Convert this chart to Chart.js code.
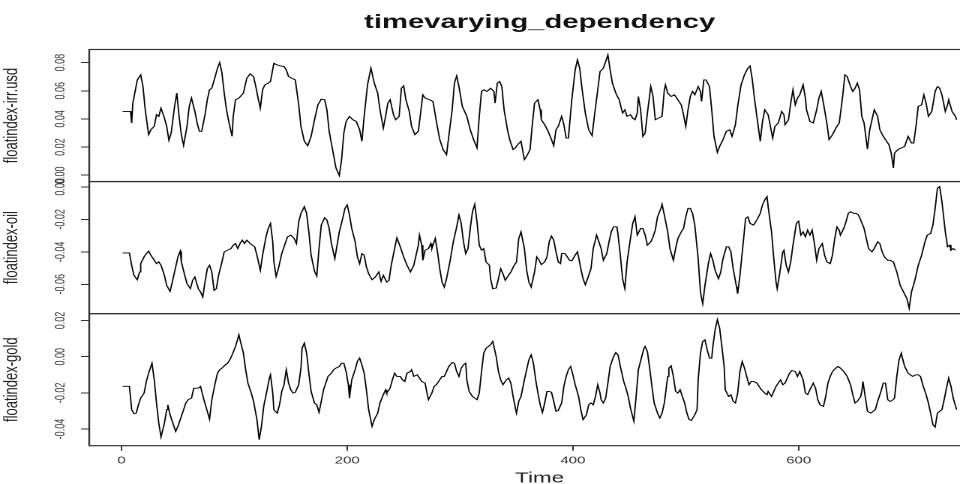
<!DOCTYPE html>
<html>
<head>
<meta charset="utf-8">
<title>timevarying_dependency</title>
<script src="https://cdn.jsdelivr.net/npm/chart.js@4.4.1/dist/chart.umd.min.js"></script>
<style>
    html, body { margin: 0; padding: 0; background: #fff; overflow: hidden; }
    /* the original picture is stretched sideways, so the canvas is too */
    #chart { width: 990px; height: 490px; }
</style>
</head>
<body>
<canvas id="chart" width="660" height="490" style="width:990px;height:490px"></canvas>
<script>
// tick labels
const xTicks = [0, 200, 400, 600];
const usdTicks = [0, 0.02, 0.04, 0.06, 0.08];
const oilTicks = [-0.06, -0.04, -0.02, 0];
const goldTicks = [-0.04, -0.02, 0, 0.02];

// axis ranges
const timeRange = [-28.6, 769.6];
const usdRange = [-0.0045, 0.0893];
const oilRange = [-0.0781, 0.0033];
const goldRange = [-0.0492, 0.0238];

// [time, value] (turning points of each curve)
const usdPoints = [[1,0.0453],[8,0.0453],[9,0.0371],[10,0.0512],[14,0.0677],[17,0.0713],[19,0.0630],[21,0.0465],[24,0.0288],[26,0.0323],[29,0.0347],[31,0.0430],[33,0.0418],[35,0.0477],[38,0.0406],[40,0.0347],[42,0.0248],[44,0.0300],[47,0.0489],[49,0.0583],[51,0.0418],[53,0.0288],[55,0.0212],[58,0.0347],[60,0.0489],[62,0.0548],[65,0.0453],[67,0.0371],[69,0.0312],[71,0.0312],[74,0.0430],[76,0.0536],[78,0.0607],[80,0.0618],[83,0.0701],[85,0.0760],[87,0.0800],[89,0.0725],[91,0.0583],[93,0.0465],[95,0.0382],[98,0.0276],[99,0.0418],[101,0.0536],[104,0.0548],[108,0.0583],[111,0.0689],[114,0.0720],[117,0.0701],[119,0.0630],[121,0.0548],[123,0.0477],[125,0.0607],[127,0.0642],[130,0.0654],[132,0.0666],[135,0.0795],[138,0.0784],[141,0.0776],[144,0.0772],[146,0.0748],[148,0.0701],[151,0.0689],[154,0.0677],[157,0.0500],[159,0.0347],[162,0.0241],[165,0.0210],[168,0.0276],[171,0.0394],[174,0.0500],[177,0.0540],[180,0.0536],[182,0.0465],[184,0.0312],[187,0.0182],[190,0.0052],[193,-0.0002],[195,0.0111],[197,0.0300],[199,0.0382],[202,0.0418],[205,0.0394],[208,0.0382],[211,0.0323],[213,0.0241],[215,0.0418],[218,0.0642],[221,0.0760],[224,0.0654],[227,0.0583],[229,0.0465],[232,0.0335],[234,0.0418],[236,0.0512],[238,0.0536],[241,0.0430],[243,0.0394],[246,0.0418],[248,0.0618],[250,0.0635],[252,0.0536],[255,0.0453],[257,0.0347],[260,0.0288],[263,0.0312],[265,0.0441],[267,0.0571],[269,0.0548],[273,0.0536],[276,0.0524],[279,0.0382],[282,0.0253],[285,0.0182],[288,0.0146],[290,0.0276],[293,0.0465],[295,0.0654],[297,0.0706],[299,0.0630],[302,0.0489],[306,0.0418],[309,0.0323],[312,0.0253],[315,0.0194],[317,0.0418],[319,0.0595],[321,0.0607],[324,0.0595],[327,0.0618],[330,0.0595],[331,0.0512],[333,0.0654],[335,0.0666],[337,0.0630],[339,0.0465],[342,0.0323],[344,0.0253],[347,0.0182],[349,0.0194],[351,0.0217],[354,0.0241],[357,0.0111],[359,0.0135],[362,0.0182],[364,0.0359],[366,0.0512],[369,0.0536],[371,0.0465],[372,0.0394],[375,0.0359],[378,0.0312],[381,0.0253],[383,0.0210],[385,0.0323],[387,0.0347],[390,0.0418],[392,0.0359],[394,0.0264],[396,0.0264],[399,0.0536],[402,0.0748],[404,0.0819],[406,0.0760],[408,0.0618],[411,0.0441],[414,0.0323],[417,0.0281],[419,0.0418],[422,0.0607],[424,0.0736],[427,0.0760],[430,0.0831],[431,0.0854],[433,0.0748],[435,0.0654],[438,0.0583],[441,0.0536],[444,0.0441],[446,0.0465],[448,0.0418],[451,0.0430],[453,0.0406],[455,0.0394],[457,0.0441],[458,0.0559],[460,0.0465],[462,0.0276],[464,0.0300],[466,0.0441],[469,0.0630],[471,0.0559],[473,0.0394],[476,0.0406],[479,0.0418],[481,0.0607],[482,0.0642],[484,0.0583],[487,0.0559],[490,0.0571],[493,0.0536],[496,0.0500],[498,0.0430],[500,0.0347],[502,0.0465],[504,0.0559],[506,0.0595],[508,0.0571],[511,0.0630],[513,0.0595],[514,0.0524],[516,0.0677],[518,0.0677],[521,0.0630],[523,0.0465],[525,0.0276],[528,0.0163],[530,0.0205],[533,0.0253],[536,0.0312],[539,0.0323],[541,0.0276],[544,0.0359],[546,0.0489],[549,0.0642],[552,0.0713],[555,0.0760],[557,0.0776],[559,0.0677],[561,0.0536],[563,0.0418],[566,0.0241],[568,0.0382],[570,0.0465],[573,0.0430],[575,0.0347],[577,0.0264],[579,0.0347],[582,0.0371],[585,0.0453],[587,0.0430],[588,0.0359],[591,0.0394],[593,0.0512],[595,0.0607],[597,0.0500],[599,0.0548],[601,0.0571],[604,0.0642],[606,0.0548],[607,0.0465],[610,0.0382],[613,0.0371],[616,0.0465],[618,0.0548],[620,0.0595],[622,0.0512],[625,0.0371],[627,0.0253],[630,0.0288],[633,0.0335],[636,0.0371],[639,0.0559],[641,0.0713],[643,0.0701],[646,0.0630],[648,0.0595],[650,0.0618],[652,0.0654],[654,0.0607],[656,0.0418],[658,0.0371],[661,0.0186],[663,0.0323],[665,0.0394],[667,0.0465],[670,0.0418],[672,0.0323],[675,0.0276],[678,0.0241],[680,0.0217],[682,0.0158],[684,0.0052],[685,0.0158],[688,0.0182],[691,0.0194],[694,0.0205],[697,0.0276],[700,0.0229],[702,0.0229],[704,0.0347],[706,0.0489],[709,0.0500],[711,0.0571],[713,0.0512],[715,0.0418],[718,0.0453],[721,0.0595],[723,0.0630],[725,0.0618],[727,0.0571],[730,0.0453],[732,0.0500],[733,0.0536],[736,0.0453],[739,0.0418],[740,0.0394]];

const oilPoints = [[1,-0.0407],[7,-0.0407],[9,-0.0483],[11,-0.0545],[14,-0.0572],[16,-0.0524],[17,-0.0473],[20,-0.0431],[22,-0.0411],[24,-0.0396],[26,-0.0421],[29,-0.0452],[31,-0.0473],[33,-0.0462],[35,-0.0483],[38,-0.0545],[40,-0.0607],[43,-0.0644],[45,-0.0586],[47,-0.0524],[50,-0.0431],[52,-0.0396],[53,-0.0462],[56,-0.0545],[58,-0.0596],[61,-0.0627],[63,-0.0576],[65,-0.0555],[68,-0.0627],[70,-0.0648],[72,-0.0679],[74,-0.0586],[76,-0.0504],[78,-0.0483],[80,-0.0524],[82,-0.0638],[84,-0.0627],[86,-0.0545],[89,-0.0462],[91,-0.0400],[94,-0.0390],[97,-0.0380],[99,-0.0359],[101,-0.0349],[103,-0.0380],[105,-0.0349],[107,-0.0328],[109,-0.0349],[111,-0.0328],[114,-0.0349],[116,-0.0359],[118,-0.0369],[120,-0.0421],[123,-0.0514],[125,-0.0421],[128,-0.0308],[130,-0.0256],[132,-0.0225],[134,-0.0338],[135,-0.0462],[137,-0.0551],[139,-0.0504],[142,-0.0411],[145,-0.0349],[147,-0.0308],[150,-0.0297],[153,-0.0318],[155,-0.0349],[157,-0.0215],[159,-0.0163],[162,-0.0122],[164,-0.0163],[166,-0.0277],[168,-0.0421],[171,-0.0520],[173,-0.0549],[175,-0.0380],[177,-0.0235],[180,-0.0190],[182,-0.0204],[184,-0.0256],[186,-0.0349],[189,-0.0442],[191,-0.0359],[193,-0.0277],[196,-0.0194],[198,-0.0132],[200,-0.0111],[202,-0.0173],[204,-0.0256],[207,-0.0338],[209,-0.0431],[211,-0.0473],[213,-0.0411],[215,-0.0421],[217,-0.0493],[219,-0.0535],[222,-0.0572],[225,-0.0555],[228,-0.0524],[230,-0.0582],[232,-0.0545],[235,-0.0586],[237,-0.0576],[239,-0.0483],[242,-0.0380],[244,-0.0314],[247,-0.0369],[250,-0.0431],[253,-0.0483],[256,-0.0524],[259,-0.0483],[263,-0.0359],[264,-0.0297],[266,-0.0359],[267,-0.0452],[269,-0.0390],[272,-0.0380],[274,-0.0349],[275,-0.0380],[278,-0.0318],[280,-0.0400],[282,-0.0504],[284,-0.0586],[286,-0.0617],[288,-0.0566],[291,-0.0462],[294,-0.0338],[297,-0.0246],[299,-0.0173],[301,-0.0225],[303,-0.0338],[305,-0.0411],[307,-0.0380],[309,-0.0256],[311,-0.0153],[313,-0.0107],[315,-0.0215],[317,-0.0359],[319,-0.0390],[321,-0.0380],[323,-0.0462],[326,-0.0483],[327,-0.0566],[329,-0.0627],[332,-0.0623],[334,-0.0566],[336,-0.0504],[338,-0.0535],[340,-0.0576],[342,-0.0555],[345,-0.0524],[348,-0.0483],[350,-0.0462],[352,-0.0318],[354,-0.0277],[357,-0.0380],[359,-0.0514],[361,-0.0586],[363,-0.0617],[366,-0.0524],[368,-0.0431],[370,-0.0452],[372,-0.0479],[375,-0.0462],[377,-0.0431],[379,-0.0338],[381,-0.0303],[383,-0.0328],[385,-0.0400],[387,-0.0462],[389,-0.0473],[390,-0.0411],[393,-0.0411],[395,-0.0431],[397,-0.0452],[399,-0.0456],[402,-0.0421],[404,-0.0400],[405,-0.0431],[407,-0.0504],[409,-0.0566],[411,-0.0603],[414,-0.0545],[416,-0.0504],[418,-0.0380],[421,-0.0297],[423,-0.0338],[425,-0.0380],[427,-0.0452],[430,-0.0411],[432,-0.0338],[434,-0.0277],[436,-0.0246],[439,-0.0246],[440,-0.0297],[442,-0.0421],[444,-0.0566],[446,-0.0627],[448,-0.0462],[451,-0.0318],[453,-0.0225],[455,-0.0184],[457,-0.0297],[460,-0.0256],[462,-0.0256],[464,-0.0297],[466,-0.0359],[469,-0.0338],[471,-0.0308],[473,-0.0266],[475,-0.0184],[478,-0.0132],[479,-0.0107],[481,-0.0173],[484,-0.0277],[486,-0.0380],[489,-0.0452],[491,-0.0380],[493,-0.0318],[496,-0.0277],[498,-0.0256],[500,-0.0184],[502,-0.0132],[504,-0.0132],[506,-0.0163],[508,-0.0235],[511,-0.0442],[513,-0.0648],[515,-0.0720],[517,-0.0607],[520,-0.0473],[522,-0.0411],[524,-0.0452],[526,-0.0514],[529,-0.0566],[531,-0.0524],[533,-0.0442],[536,-0.0369],[538,-0.0369],[540,-0.0400],[542,-0.0504],[545,-0.0617],[546,-0.0658],[548,-0.0545],[551,-0.0338],[553,-0.0194],[555,-0.0184],[557,-0.0225],[560,-0.0235],[561,-0.0225],[563,-0.0204],[566,-0.0163],[568,-0.0111],[570,-0.0080],[572,-0.0060],[573,-0.0122],[576,-0.0277],[578,-0.0442],[580,-0.0586],[581,-0.0627],[583,-0.0545],[586,-0.0400],[587,-0.0390],[589,-0.0483],[591,-0.0524],[593,-0.0462],[595,-0.0359],[598,-0.0225],[600,-0.0211],[602,-0.0297],[604,-0.0277],[606,-0.0308],[608,-0.0266],[610,-0.0297],[612,-0.0266],[614,-0.0349],[616,-0.0452],[618,-0.0380],[621,-0.0349],[623,-0.0421],[625,-0.0462],[628,-0.0473],[630,-0.0421],[632,-0.0318],[634,-0.0246],[636,-0.0266],[637,-0.0297],[640,-0.0256],[642,-0.0215],[644,-0.0163],[646,-0.0153],[649,-0.0163],[651,-0.0163],[653,-0.0173],[655,-0.0204],[658,-0.0256],[660,-0.0318],[662,-0.0380],[665,-0.0400],[667,-0.0380],[670,-0.0338],[672,-0.0349],[674,-0.0400],[676,-0.0431],[679,-0.0452],[681,-0.0452],[684,-0.0462],[687,-0.0524],[690,-0.0607],[693,-0.0648],[696,-0.0689],[698,-0.0747],[700,-0.0648],[703,-0.0576],[706,-0.0483],[709,-0.0421],[712,-0.0338],[714,-0.0297],[717,-0.0287],[719,-0.0235],[721,-0.0132],[723,-0.0008],[725,0.0002],[727,-0.0091],[730,-0.0277],[732,-0.0369],[734,-0.0359],[735,-0.0390],[737,-0.0380],[739,-0.0390]];

const goldPoints = [[1,-0.0164],[7,-0.0164],[9,-0.0293],[11,-0.0315],[13,-0.0312],[15,-0.0266],[17,-0.0229],[20,-0.0201],[22,-0.0137],[24,-0.0091],[26,-0.0054],[27,-0.0036],[29,-0.0128],[31,-0.0256],[33,-0.0367],[35,-0.0444],[38,-0.0367],[40,-0.0293],[41,-0.0266],[43,-0.0321],[46,-0.0376],[48,-0.0413],[50,-0.0385],[53,-0.0330],[55,-0.0293],[57,-0.0256],[59,-0.0238],[62,-0.0229],[64,-0.0174],[66,-0.0174],[68,-0.0174],[70,-0.0164],[73,-0.0238],[76,-0.0302],[78,-0.0345],[80,-0.0238],[83,-0.0146],[85,-0.0091],[87,-0.0072],[89,-0.0063],[92,-0.0045],[94,-0.0036],[96,-0.0017],[98,0.0010],[101,0.0056],[104,0.0121],[105,0.0093],[108,0.0020],[110,-0.0072],[112,-0.0146],[115,-0.0201],[117,-0.0247],[120,-0.0348],[122,-0.0459],[124,-0.0385],[126,-0.0275],[129,-0.0183],[131,-0.0118],[132,-0.0100],[134,-0.0201],[135,-0.0293],[138,-0.0312],[140,-0.0266],[142,-0.0192],[144,-0.0155],[146,-0.0072],[148,-0.0146],[150,-0.0183],[152,-0.0201],[154,-0.0197],[157,-0.0155],[159,-0.0063],[160,0.0047],[162,0.0075],[164,0.0020],[166,-0.0091],[168,-0.0192],[171,-0.0256],[173,-0.0266],[175,-0.0308],[177,-0.0247],[179,-0.0183],[181,-0.0146],[183,-0.0109],[186,-0.0091],[188,-0.0072],[190,-0.0063],[193,-0.0054],[195,-0.0036],[197,-0.0036],[199,-0.0082],[201,-0.0155],[202,-0.0229],[204,-0.0128],[207,-0.0072],[209,-0.0026],[211,-0.0008],[213,-0.0045],[215,-0.0091],[217,-0.0183],[219,-0.0293],[222,-0.0385],[224,-0.0348],[227,-0.0312],[229,-0.0256],[232,-0.0210],[234,-0.0183],[235,-0.0201],[238,-0.0174],[240,-0.0128],[242,-0.0091],[244,-0.0109],[247,-0.0109],[249,-0.0128],[251,-0.0137],[253,-0.0091],[256,-0.0082],[257,-0.0072],[259,-0.0109],[262,-0.0100],[264,-0.0118],[266,-0.0137],[269,-0.0146],[271,-0.0210],[272,-0.0238],[275,-0.0201],[277,-0.0164],[279,-0.0155],[281,-0.0137],[284,-0.0109],[286,-0.0109],[288,-0.0082],[290,-0.0054],[293,-0.0032],[295,-0.0036],[297,-0.0082],[299,-0.0109],[301,-0.0063],[303,-0.0045],[305,-0.0036],[306,-0.0128],[308,-0.0192],[311,-0.0220],[313,-0.0229],[315,-0.0238],[317,-0.0201],[319,-0.0082],[321,0.0020],[323,0.0047],[325,0.0056],[327,0.0066],[329,0.0084],[330,0.0056],[332,0.0001],[334,-0.0082],[336,-0.0128],[338,-0.0155],[341,-0.0128],[343,-0.0118],[345,-0.0146],[347,-0.0220],[349,-0.0284],[350,-0.0312],[352,-0.0247],[354,-0.0220],[357,-0.0128],[359,-0.0072],[361,-0.0017],[363,0.0010],[365,-0.0036],[367,-0.0128],[369,-0.0201],[371,-0.0266],[373,-0.0308],[375,-0.0256],[377,-0.0192],[379,-0.0192],[381,-0.0197],[383,-0.0247],[385,-0.0302],[387,-0.0297],[390,-0.0256],[392,-0.0164],[394,-0.0109],[396,-0.0072],[398,-0.0054],[400,-0.0100],[402,-0.0155],[405,-0.0220],[407,-0.0293],[409,-0.0348],[412,-0.0321],[414,-0.0266],[416,-0.0256],[418,-0.0266],[420,-0.0220],[422,-0.0155],[424,-0.0201],[425,-0.0238],[427,-0.0256],[429,-0.0229],[431,-0.0146],[433,-0.0054],[436,0.0001],[438,0.0023],[440,0.0010],[442,-0.0054],[445,-0.0137],[447,-0.0174],[449,-0.0220],[451,-0.0284],[454,-0.0357],[456,-0.0220],[458,-0.0072],[461,0.0001],[463,0.0047],[464,0.0056],[466,0.0029],[468,-0.0063],[470,-0.0164],[472,-0.0256],[475,-0.0312],[477,-0.0339],[479,-0.0312],[481,-0.0256],[484,-0.0109],[485,-0.0063],[487,-0.0050],[489,-0.0109],[491,-0.0192],[493,-0.0201],[495,-0.0183],[497,-0.0220],[499,-0.0256],[501,-0.0312],[503,-0.0348],[505,-0.0352],[508,-0.0321],[510,-0.0293],[511,-0.0128],[513,0.0020],[515,0.0084],[517,0.0093],[519,0.0038],[521,-0.0008],[523,-0.0008],[524,0.0056],[526,0.0148],[528,0.0204],[530,0.0158],[532,0.0056],[534,-0.0054],[535,-0.0183],[538,-0.0220],[540,-0.0210],[542,-0.0247],[544,-0.0256],[546,-0.0201],[548,-0.0082],[550,-0.0026],[552,-0.0063],[554,-0.0109],[556,-0.0155],[558,-0.0137],[560,-0.0137],[563,-0.0146],[565,-0.0164],[567,-0.0183],[570,-0.0201],[572,-0.0210],[573,-0.0192],[576,-0.0220],[578,-0.0192],[580,-0.0164],[582,-0.0146],[584,-0.0128],[586,-0.0155],[588,-0.0146],[590,-0.0118],[592,-0.0091],[594,-0.0076],[597,-0.0082],[599,-0.0109],[601,-0.0082],[604,-0.0128],[606,-0.0201],[608,-0.0210],[610,-0.0183],[613,-0.0146],[615,-0.0174],[617,-0.0238],[619,-0.0266],[622,-0.0275],[624,-0.0220],[626,-0.0146],[628,-0.0109],[630,-0.0082],[633,-0.0063],[635,-0.0054],[637,-0.0063],[640,-0.0082],[643,-0.0109],[646,-0.0155],[648,-0.0210],[650,-0.0256],[652,-0.0247],[655,-0.0220],[656,-0.0192],[657,-0.0137],[659,-0.0220],[661,-0.0302],[664,-0.0312],[666,-0.0302],[668,-0.0293],[670,-0.0247],[673,-0.0192],[675,-0.0146],[677,-0.0146],[679,-0.0238],[681,-0.0247],[683,-0.0242],[685,-0.0229],[687,-0.0109],[689,-0.0017],[691,0.0020],[692,-0.0008],[694,-0.0054],[697,-0.0091],[699,-0.0100],[701,-0.0109],[704,-0.0100],[706,-0.0100],[708,-0.0109],[710,-0.0155],[713,-0.0210],[715,-0.0256],[717,-0.0312],[719,-0.0376],[721,-0.0389],[723,-0.0312],[725,-0.0302],[727,-0.0293],[729,-0.0238],[731,-0.0174],[733,-0.0118],[735,-0.0164],[737,-0.0229],[740,-0.0293]];

const FONT = '"Liberation Sans", Arial, sans-serif';
const INK = '#222';

function toXY(points) {
    return points.map(p => ({ x: p[0], y: p[1] }));
}

function seriesDataset(points, axisId, name) {
    return {
        label: name,
        data: toXY(points),
        yAxisID: axisId,
        borderColor: '#000',
        borderWidth: 0.9,
        pointRadius: 0,
        tension: 0,
        fill: false
    };
}

// one stacked y axis per panel, R plot.ts style
function panelAxis(title, range, ticks, tickPad) {
    return {
        type: 'linear',
        position: 'left',
        stack: 'panels',
        stackWeight: 1,
        min: range[0],
        max: range[1],
        afterBuildTicks: scale => { scale.ticks = ticks.map(v => ({ value: v })); },
        afterFit: scale => { scale.width = 59.5; },
        grid: { drawOnChartArea: false, drawTicks: true, tickLength: 5.5, color: '#333', lineWidth: 1 },
        border: { display: false },
        ticks: {
            autoSkip: false,
            minRotation: 90,
            maxRotation: 90,
            crossAlign: 'center',
            padding: tickPad,
            color: '#333',
            font: { family: FONT, size: 9 },
            callback: v => Number(v).toFixed(2)
        },
        title: {
            display: true,
            text: title,
            color: INK,
            padding: 0,
            font: { family: FONT, size: 13 }
        }
    };
}

// box around each panel
const panelFrame = {
    id: 'panelFrame',
    afterDraw(chart) {
        const ctx = chart.ctx;
        const area = chart.chartArea;
        ctx.save();
        ctx.strokeStyle = '#333';
        ctx.lineWidth = 1.2;
        ['yUsd', 'yOil', 'yGold'].forEach(id => {
            const s = chart.scales[id];
            ctx.strokeRect(area.left, s.top, area.right - area.left, s.bottom - s.top);
        });
        ctx.restore();
    }
};

const ctx = document.getElementById('chart').getContext('2d');
new Chart(ctx, {
    type: 'line',
    data: {
        datasets: [
            seriesDataset(usdPoints, 'yUsd', 'floatindex-irr.usd'),
            seriesDataset(oilPoints, 'yOil', 'floatindex-oil'),
            seriesDataset(goldPoints, 'yGold', 'floatindex-gold')
        ]
    },
    options: {
        responsive: false,
        devicePixelRatio: 2,
        animation: false,
        layout: { padding: 0 },
        plugins: {
            legend: { display: false },
            tooltip: { enabled: false },
            title: {
                display: true,
                text: 'timevarying_dependency',
                fullSize: false,
                color: '#111',
                padding: { top: 11, bottom: 15.1 },
                font: { family: FONT, size: 19.5, weight: 'bold' }
            }
        },
        scales: {
            x: {
                type: 'linear',
                position: 'bottom',
                min: timeRange[0],
                max: timeRange[1],
                afterBuildTicks: scale => { scale.ticks = xTicks.map(v => ({ value: v })); },
                afterFit: scale => { scale.height = 44.3; },
                grid: { drawOnChartArea: false, drawTicks: true, tickLength: 5, color: '#333' },
                border: { display: false },
                ticks: {
                    autoSkip: false,
                    maxRotation: 0,
                    padding: 4,
                    color: '#333',
                    font: { family: FONT, size: 10 }
                },
                title: {
                    display: true,
                    text: 'Time',
                    color: INK,
                    padding: { top: 0, bottom: 2.5 },
                    font: { family: FONT, size: 15 }
                }
            },
            // listed bottom to top: the last left axis is stacked on top
            yGold: panelAxis('floatindex-gold', goldRange, goldTicks, 3),
            yOil: panelAxis('floatindex-oil', oilRange, oilTicks, 3),
            yUsd: panelAxis('floatindex-irr.usd', usdRange, usdTicks, 4.5)
        }
    },
    plugins: [panelFrame]
});
</script>
</body>
</html>
